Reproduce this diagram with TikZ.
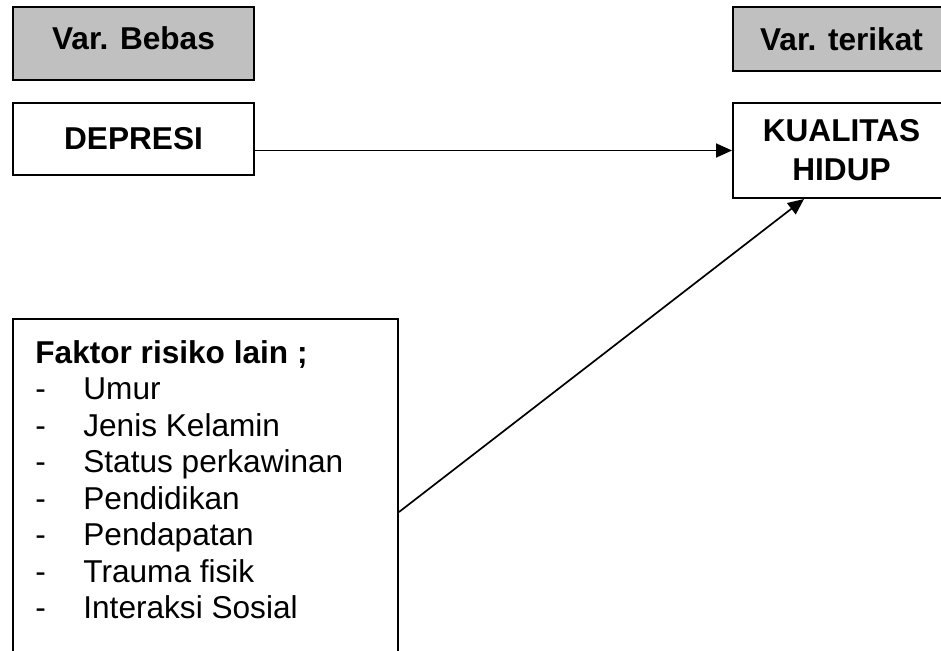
\documentclass[tikz,border=0pt]{standalone}
\usepackage{fontspec}
\setmainfont{Liberation Sans}
\usepackage{tikz}
\usetikzlibrary{arrows.meta,positioning,calc}
\definecolor{headgray}{RGB}{192,192,192}
\newcommand{\itemdash}{\makebox[24pt][l]{-}}

\begin{document}
\begin{tikzpicture}[
    x=0.5pt, y=-0.5pt,
    every node/.style={font=\fontsize{15.8}{18.25}\selectfont},
    varbox/.style={rectangle, draw=black, line width=1pt, fill=headgray, align=center, font=\fontsize{15.8}{18.25}\selectfont\bfseries},
    mainbox/.style={rectangle, draw=black, line width=1pt, fill=white, align=center, font=\fontsize{15.8}{19.5}\selectfont\bfseries},
    listbox/.style={rectangle, draw=black, line width=1pt},
    arrow/.style={-{Triangle[length=8pt,width=7pt]}, line width=0.85pt}
]
\useasboundingbox (0,0) rectangle (941,651);
\clip (0,0) rectangle (941,651);

% Variabel bebas (left)
\node[varbox, minimum width=120.5pt, minimum height=36.5pt, text depth=5.5pt] (bebas) at (133.5,43.5) {Var. Bebas};
\node[mainbox, minimum width=120.5pt, minimum height=36pt] (depresi) at (133.5,139) {DEPRESI};

% Variabel terikat (right)
\node[varbox, minimum width=108.5pt, minimum height=32pt] (terikat) at (841.5,39) {Var. terikat};
\node[mainbox, minimum width=108.5pt, minimum height=47.5pt] (kualitas) at (841.5,150.5) {KUALITAS\\HIDUP};

% Faktor risiko lain (bottom left)
\node[listbox, minimum width=192.5pt, minimum height=193pt] (faktor) at (205.5,512) {};
\node[anchor=north west, inner sep=0pt, align=left] (faktorlist) at (35,340) {
    \textbf{Faktor risiko lain ;}\\
    \itemdash Umur\\
    \itemdash Jenis Kelamin\\
    \itemdash Status perkawinan\\
    \itemdash Pendidikan\\
    \itemdash Pendapatan\\
    \itemdash Trauma fisik\\
    \itemdash Interaksi Sosial
};

% Arrows
\draw[arrow] (depresi.east |- kualitas.west) -- (kualitas.west);
\draw[arrow] (faktor.east) -- ([xshift=36pt]kualitas.south west);

\end{tikzpicture}
\end{document}
